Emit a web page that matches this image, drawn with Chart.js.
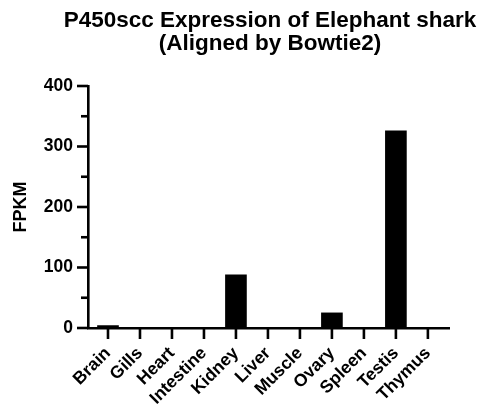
<!DOCTYPE html>
<html>
<head>
<meta charset="utf-8">
<script src="https://cdn.jsdelivr.net/npm/chart.js@4"></script>
<style>
  html, body { margin: 0; padding: 0; background: #ffffff; }
  #wrap { width: 481px; height: 410px; position: relative; }
</style>
</head>
<body>
<div id="wrap"><canvas id="c" width="481" height="410"></canvas></div>
<script>
// ---- data ----
const categories = ["Brain", "Gills", "Heart", "Intestine", "Kidney", "Liver", "Muscle", "Ovary", "Spleen", "Testis", "Thymus"];
const fpkmValues = [4, 0, 0, 0, 88, 0, 0, 25, 0, 326, 0];
const yTickValues = [0, 100, 200, 300, 400];
const yMinorTickValues = [50, 150, 250, 350];
const titleLines = ["P450scc Expression of Elephant shark", "(Aligned by Bowtie2)"];
const yAxisTitle = "FPKM";

const FONT = "'Liberation Sans', Arial, Helvetica, sans-serif";

const points = categories.map((c, i) => ({ x: i, y: fpkmValues[i] }));

const axisTicksPlugin = {
  id: 'axisTicks',
  afterDraw(chart) {
    const ctx = chart.ctx;
    const xs = chart.scales.x, ys = chart.scales.y;
    const area = chart.chartArea;
    ctx.save();
    ctx.strokeStyle = '#000';
    ctx.lineWidth = 2.6;
    ctx.lineCap = 'butt';
    yTickValues.forEach(v => {
      const py = ys.getPixelForValue(v);
      ctx.beginPath(); ctx.moveTo(area.left - 11, py); ctx.lineTo(area.left, py); ctx.stroke();
    });
    yMinorTickValues.forEach(v => {
      const py = ys.getPixelForValue(v);
      ctx.beginPath(); ctx.moveTo(area.left - 7, py); ctx.lineTo(area.left, py); ctx.stroke();
    });
    categories.forEach((c, i) => {
      const px = xs.getPixelForValue(i);
      ctx.beginPath(); ctx.moveTo(px, area.bottom); ctx.lineTo(px, area.bottom + 11); ctx.stroke();
    });
    ctx.fillStyle = '#000';
    ctx.font = "bold 22.5px " + FONT;
    ctx.textAlign = 'center';
    ctx.textBaseline = 'alphabetic';
    const cx = 270;
    ctx.fillText(titleLines[0], cx, 27);
    ctx.fillText(titleLines[1], cx, 50);
    ctx.restore();
  }
};

new Chart(document.getElementById('c'), {
  type: 'bar',
  data: {
    datasets: [{
      data: points,
      backgroundColor: '#000000',
      borderWidth: 0,
      barThickness: 21
    }]
  },
  options: {
    responsive: false,
    animation: false,
    devicePixelRatio: 1,
    layout: { padding: { top: 86, right: 32, left: 0, bottom: 0 } },
    plugins: { legend: { display: false }, title: { display: false }, tooltip: { enabled: false } },
    scales: {
      x: {
        type: 'linear',
        offset: false,
        min: -0.625,
        max: 10.66,
        grid: { display: false, drawTicks: false, offset: false },
        border: { display: true, color: '#000', width: 2.6 },
        afterBuildTicks: (scale) => { scale.ticks = categories.map((c, i) => ({ value: i })); },
        afterFit: (scale) => { scale.height = 82; },
        ticks: {
          autoSkip: false,
          minRotation: 45,
          maxRotation: 45,
          padding: 15,
          color: '#000',
          font: { family: FONT, size: 17.5, weight: 'bold' },
          callback: (v) => categories[v]
        }
      },
      y: {
        min: 0,
        max: 400,
        grid: { display: false, drawTicks: false },
        border: { display: true, color: '#000', width: 2.6 },
        afterBuildTicks: (scale) => { scale.ticks = yTickValues.map(v => ({ value: v })); },
        afterFit: (scale) => { scale.width = 88; },
        ticks: {
          padding: 15,
          color: '#000',
          font: { family: FONT, size: 17.5, weight: 'bold' }
        },
        title: {
          display: true,
          text: yAxisTitle,
          color: '#000',
          padding: { top: 10, bottom: 0 },
          font: { family: FONT, size: 18, weight: 'bold' }
        }
      }
    }
  },
  plugins: [axisTicksPlugin]
});
</script>
</body>
</html>
